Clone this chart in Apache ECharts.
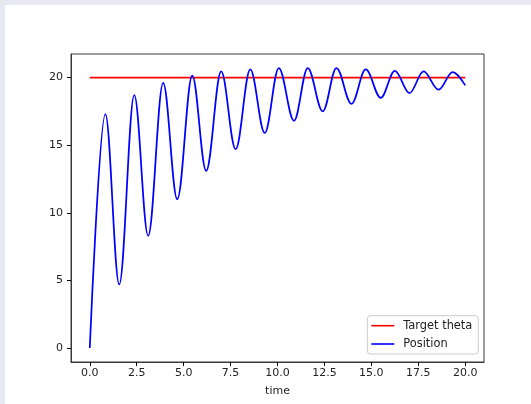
<!DOCTYPE html>
<html>
<head>
<meta charset="utf-8">
<script src="https://cdn.jsdelivr.net/npm/echarts@6/dist/echarts.min.js"></script>
<style>
  html, body { margin: 0; padding: 0; background: #e8e8f2; width: 531px; height: 404px; overflow: hidden; }
  #chart { position: absolute; left: 5px; top: 5px; width: 526px; height: 399px; background: #ffffff; }
</style>
</head>
<body>
<div id="chart"></div>
<script>
// Data (start, each peak/trough, end)
const targetTime = [0, 20];
const targetTheta = [20, 20];

const posTime = [
  0, 0.83, 1.57, 2.37, 3.11, 3.91, 4.66, 5.46, 6.20, 7.00,
  7.77, 8.55, 9.32, 10.07, 10.88, 11.61, 12.41, 13.14, 13.94,
  14.70, 15.50, 16.25, 17.03, 17.78, 18.58, 19.33, 20.00
];
const position = [
  0, 17.3, 4.7, 18.7, 8.3, 19.6, 11.0, 20.15, 13.1, 20.45,
  14.7, 20.6, 15.9, 20.7, 16.8, 20.7, 17.5, 20.7, 18.05,
  20.6, 18.5, 20.5, 18.85, 20.45, 19.1, 20.4, 19.42
];

const xTicks = [0, 2.5, 5, 7.5, 10, 12.5, 15, 17.5, 20];
const yTicks = [0, 5, 10, 15, 20];

const zip = (a, b) => a.map((v, i) => [v, b[i]]);

const chart = echarts.init(document.getElementById('chart'), null, { renderer: 'canvas' });
const font = 'DejaVu Sans';
const frame = '#3a3a3a';
chart.setOption({
  animation: false,
  backgroundColor: '#ffffff',
  grid: {
    left: 66, top: 49, right: 47, bottom: 42,
    show: true, borderColor: frame, borderWidth: 1, backgroundColor: 'transparent'
  },
  xAxis: {
    type: 'value', min: -1, max: 21,
    name: 'time', nameLocation: 'middle', nameGap: 24,
    nameTextStyle: { color: '#222', fontFamily: font, fontSize: 11 },
    splitLine: { show: false },
    axisLine: { show: true, onZero: false, lineStyle: { color: frame, width: 1 } },
    axisTick: { show: true, length: 4, inside: false, customValues: xTicks, lineStyle: { color: '#000', width: 1 } },
    axisLabel: { customValues: xTicks, margin: 6, color: '#222', fontFamily: font, fontSize: 11,
      formatter: v => v.toFixed(1) }
  },
  yAxis: {
    type: 'value', min: -1.035, max: 21.74,
    splitLine: { show: false },
    axisLine: { show: true, onZero: false, lineStyle: { color: frame, width: 1 } },
    axisTick: { show: true, length: 4, inside: false, customValues: yTicks, lineStyle: { color: '#000', width: 1 } },
    axisLabel: { customValues: yTicks, margin: 8, color: '#222', fontFamily: font, fontSize: 11,
      formatter: v => String(Math.round(v)) }
  },
  legend: {
    orient: 'vertical', right: 52.7, bottom: 50,
    backgroundColor: 'rgba(255,255,255,0.8)', borderColor: '#cccccc', borderWidth: 1, borderRadius: 3,
    padding: [3, 6, 3, 4],
    itemWidth: 23, itemHeight: 1.6, itemGap: 4.3,
    icon: 'rect',
    textStyle: { color: '#222', fontFamily: font, fontSize: 11.4, lineHeight: 14, padding: [0, 0, 0, 4] },
    data: ['Target theta', 'Position']
  },
  series: [
    {
      name: 'Target theta', type: 'line', data: zip(targetTime, targetTheta),
      showSymbol: false, symbol: 'none', color: '#ff0000',
      lineStyle: { color: '#ff0000', width: 1.75 }
    },
    {
      name: 'Position', type: 'line', data: zip(posTime, position),
      showSymbol: false, symbol: 'none', smooth: 0.36, smoothMonotone: 'x', color: '#0000ff',
      lineStyle: { color: '#0000ff', width: 1.75 }
    }
  ]
});
</script>
</body>
</html>
